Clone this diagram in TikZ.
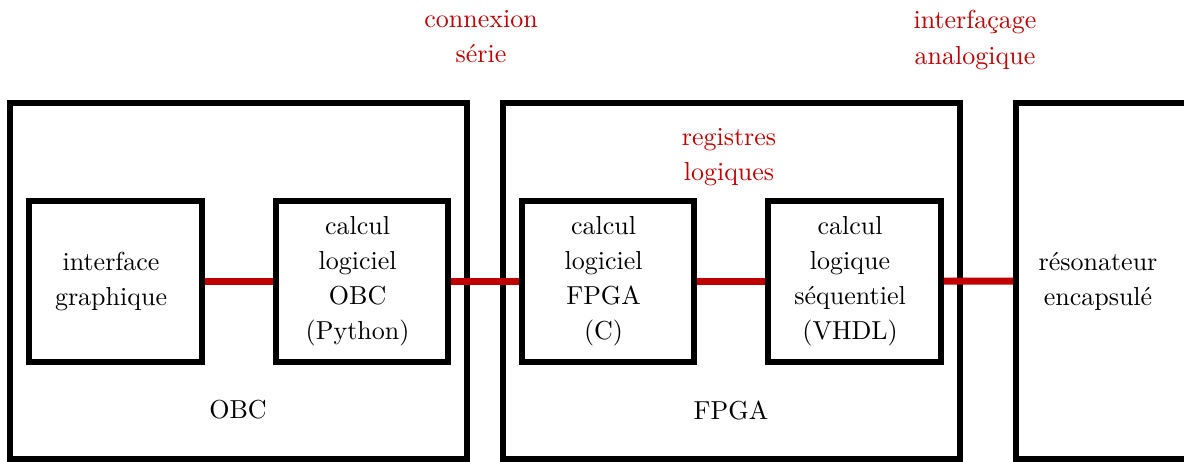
\documentclass[tikz,border=0pt]{standalone}
\usepackage{tikz}
\definecolor{LinkRed}{RGB}{192,0,0}

\begin{document}
\begin{tikzpicture}[x=0.3845pt,y=-0.3845pt,font=\fontsize{10}{13.5}\selectfont,
  outerbox/.style={draw,line width=2.3pt,minimum width=175.7pt,minimum height=136.9pt},
  innerbox/.style={draw,line width=2.3pt,minimum width=66.5pt,minimum height=61.9pt},
  boxtext/.style={align=center,inner sep=0pt,xshift=-1.7pt},
  link/.style={LinkRed,line width=2.7pt},
  redlabel/.style={LinkRed,align=center}]
\useasboundingbox (0,0) rectangle (1184,461);
\node[outerbox] (obc) at (238.5,281) {};
\node[outerbox] (fpga) at (731.5,281) {};
\node[outerbox] (reso) at (1244.5,281) {};
\node[innerbox] (gui) at (115.5,281.5) {};
\node[innerbox] (pyobc) at (362,281.5) {};
\node[innerbox] (cfpga) at (608,281.5) {};
\node[innerbox] (vhdl) at (854.5,281.5) {};
\node[boxtext] (guitxt) at (gui.center) {interface\\graphique};
\node[boxtext] (pyobctxt) at (pyobc.center) {calcul\\logiciel\\OBC\\(Python)};
\node[boxtext] (cfpgatxt) at (cfpga.center) {calcul\\logiciel\\FPGA\\(C)};
\node[boxtext] (vhdltxt) at (vhdl.center) {calcul\\logique\\s\'equentiel\\(VHDL)};
\node[align=center] (resotxt) at (1098,281) {r\'esonateur\\encapsul\'e};
\node (obclab) at (238,410) {OBC};
\node (fpgalab) at (731,410) {FPGA};
\node[redlabel] (serie) at (481,37) {connexion\\s\'erie};
\node[redlabel] (regs) at (729,157) {registres\\logiques};
\node[redlabel] (analog) at (975,40) {interfa\c{c}age\\analogique};
\draw[link] (gui) -- (pyobc);
\draw[link] (pyobc) -- (cfpga);
\draw[link] (cfpga) -- (vhdl);
\draw[link] (vhdl) -- (reso.west);
\end{tikzpicture}
\end{document}
